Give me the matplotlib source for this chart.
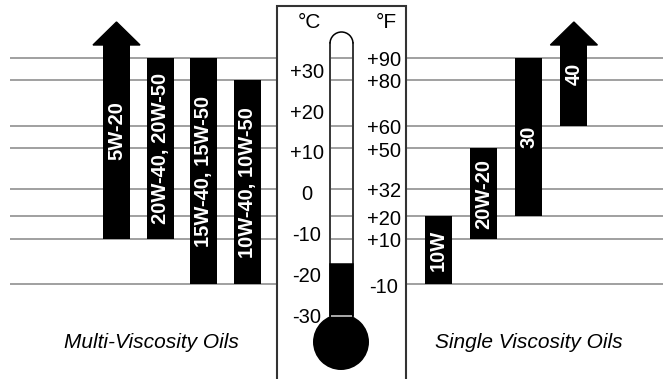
import matplotlib
matplotlib.use('Agg')
import matplotlib.pyplot as plt
from matplotlib.patches import Rectangle, Polygon, Ellipse, Arc

plt.rcParams['font.family'] = ['Liberation Sans', 'DejaVu Sans']

# ---------------- data ----------------
ref_temps_f = [90, 80, 60, 50, 32, 20, 10, -10]
f_labels = ['+90', '+80', '+60', '+50', '+32', '+20', '+10', '-10']
c_temps = [30, 20, 10, 0, -10, -20, -30]
c_labels = ['+30', '+20', '+10', '0', '-10', '-20', '-30']

multi_names = ['5W-20', '20W-40, 20W-50', '15W-40, 15W-50', '10W-40, 10W-50']
multi_low_f = [10, 10, -10, -10]
multi_high_f = [None, 90, 90, 80]      # None -> open ended (arrow)
single_names = ['10W', '20W-20', '30', '40']
single_low_f = [-10, 10, 20, 60]
single_high_f = [20, 50, 90, None]
mercury_f = -1

# ---------------- layout ----------------
W, H = 663, 379
PX_PER_F = 2.2697
Y_REF_PX, F_REF = 167.6, 41.5


def f_at(py):
    """temperature (F) at a pixel row, for layout only"""
    return F_REF + (Y_REF_PX - py) / PX_PER_F


fig = plt.figure(figsize=(W / 100, H / 100), dpi=100)
ax = fig.add_axes([0, 0, 1, 1])
ax.set_xlim(0, W)
ax.set_ylim(f_at(H), f_at(0))
ax.axis('off')

line_col = '#a0a0a0'
line_w = 1.4
box_l, box_r, box_top = 277, 406, f_at(6)

# horizontal reference lines
ax.hlines(ref_temps_f, 10, box_l, colors=line_col, lw=line_w, zorder=1)
ax.hlines(ref_temps_f, box_r, W, colors=line_col, lw=line_w, zorder=1)

# center box
ax.plot([box_l, box_l, box_r, box_r], [f_at(H + 5), box_top, box_top, f_at(H + 5)],
        color='#333333', lw=1.5, zorder=3, solid_joinstyle='miter')

bar_w = 27
head_w = 47
head_base = f_at(45)
head_tip = f_at(22)


def draw_group(names, lows, highs, x0, dx):
    for i, (name, lo, hi) in enumerate(zip(names, lows, highs)):
        xc = x0 + i * dx
        if hi is None:
            ax.bar(xc, head_base - lo, bottom=lo, width=bar_w, color='black',
                   edgecolor='none', zorder=2)
            ax.add_patch(Polygon([(xc - head_w / 2, head_base), (xc + head_w / 2, head_base),
                                  (xc, head_tip)], closed=True, color='black', zorder=2))
            yc = (lo + head_tip) / 2
        else:
            ax.bar(xc, hi - lo, bottom=lo, width=bar_w, color='black',
                   edgecolor='none', zorder=2)
            yc = (lo + hi) / 2
        ax.text(xc + 0.5, yc, name, rotation=90, ha='center', va='center',
                color='white', fontsize=14.5, fontweight='bold', zorder=4)


draw_group(multi_names, multi_low_f, multi_high_f, 116.5, 43.5)
draw_group(single_names, single_low_f, single_high_f, 438, 45.3)

# thermometer
t_l, t_r = 330, 353
t_c = (t_l + t_r) / 2
tube_bottom = f_at(316)
tube_top = f_at(43.5)
r_tube = (t_r - t_l) / 2
ax.plot([t_l, t_l], [tube_bottom, tube_top], color='black', lw=1.1, zorder=3)
ax.plot([t_r, t_r], [tube_bottom, tube_top], color='black', lw=1.1, zorder=3)
ax.add_patch(Arc((t_c, tube_top), t_r - t_l, 2 * r_tube / PX_PER_F, theta1=0, theta2=180,
                 color='black', lw=1.1, zorder=3))
inner = [t for t in ref_temps_f if t > mercury_f]
ax.hlines(inner, t_l + 1, t_r - 1, colors=line_col, lw=line_w, zorder=1)
ax.add_patch(Rectangle((t_l, tube_bottom), t_r - t_l, mercury_f - tube_bottom,
                       facecolor='black', edgecolor='black', lw=1.1, zorder=3))
bulb_r = 28
ax.add_patch(Ellipse((341, f_at(342)), 2 * bulb_r, 2 * bulb_r / PX_PER_F,
                     facecolor='black', edgecolor='none', zorder=3))
ax.hlines([tube_bottom], t_l + 1, t_r - 1, colors='#c8c8c8', lw=1.2, zorder=4)

# scale labels
ax.text(309, f_at(23), '°C', ha='center', va='center', fontsize=15, zorder=4)
ax.text(386, f_at(23), '°F', ha='center', va='center', fontsize=15, zorder=4)
for c, lab in zip(c_temps, c_labels):
    ax.annotate(lab, (307, c * 9 / 5 + 32), xytext=(0, -4), textcoords='offset points',
                ha='center', va='center', fontsize=14.5, zorder=4)
for f, lab in zip(ref_temps_f, f_labels):
    ax.annotate(lab, (384, f), xytext=(0, -2), textcoords='offset points',
                ha='center', va='center', fontsize=14.5, zorder=4)

# group titles
ax.text(151, f_at(343), 'Multi-Viscosity Oils', ha='center', va='center',
        fontsize=15, style='italic')
ax.text(529, f_at(343), 'Single Viscosity Oils', ha='center', va='center',
        fontsize=15, style='italic')

fig.savefig('out.png', dpi=100)
